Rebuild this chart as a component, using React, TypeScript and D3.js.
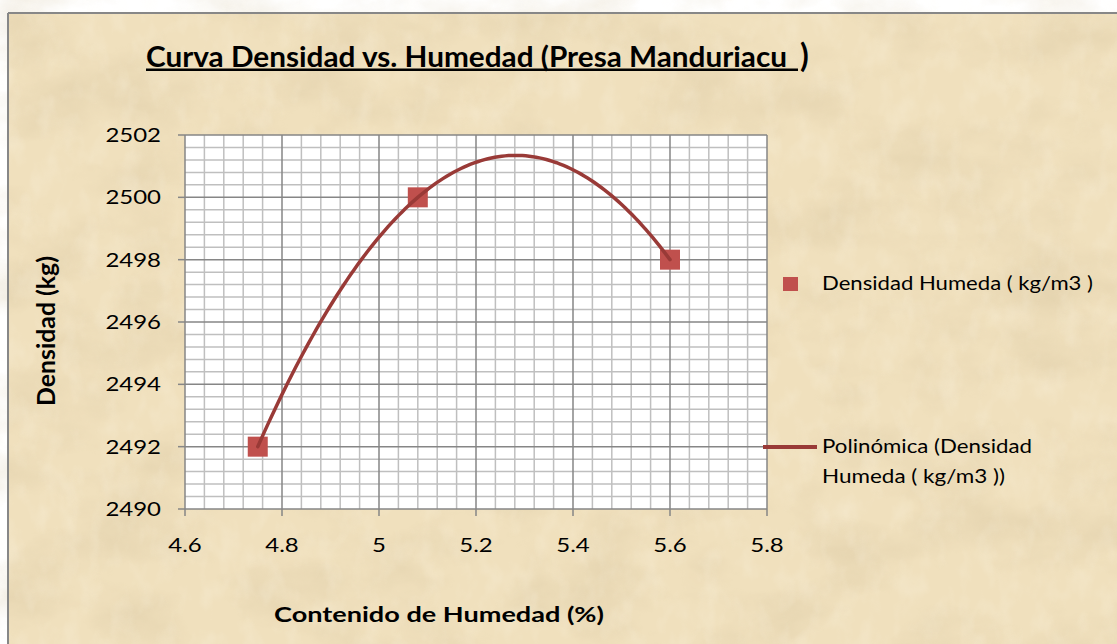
import React from "react";
import * as d3 from "d3";

// ---- data ----
const humedad: number[] = [4.75, 5.08, 5.6];
const densidad: number[] = [2492, 2500, 2498];
const xTicks: number[] = [4.6, 4.8, 5, 5.2, 5.4, 5.6, 5.8];
const yTicks: number[] = [2490, 2492, 2494, 2496, 2498, 2500, 2502];
const titleText = "Curva Densidad vs. Humedad (Presa Manduriacu ";
const xTitle = "Contenido de Humedad (%)";
const yTitle = "Densidad (kg)";
const legendSeries = "Densidad Humeda ( kg/m3 )";
const legendTrend = ["Polinómica (Densidad", "Humeda ( kg/m3 ))"];

// least-squares polynomial (order 2) trendline, as the spreadsheet computes it
function polyFit(xs: number[], ys: number[]) {
  const x0 = d3.mean(xs) as number;
  const S = [0, 0, 0, 0, 0];
  const T = [0, 0, 0];
  xs.forEach((x, i) => {
    const u = x - x0;
    for (let k = 0; k < 5; k++) S[k] += Math.pow(u, k);
    for (let k = 0; k < 3; k++) T[k] += ys[i] * Math.pow(u, k);
  });
  const A = [
    [S[0], S[1], S[2], T[0]],
    [S[1], S[2], S[3], T[1]],
    [S[2], S[3], S[4], T[2]],
  ];
  for (let c = 0; c < 3; c++) {
    for (let r = c + 1; r < 3; r++) {
      const f = A[r][c] / A[c][c];
      for (let k = c; k < 4; k++) A[r][k] -= f * A[c][k];
    }
  }
  const b = [0, 0, 0];
  for (let r = 2; r >= 0; r--) {
    let s = A[r][3];
    for (let k = r + 1; k < 3; k++) s -= A[r][k] * b[k];
    b[r] = s / A[r][r];
  }
  return (x: number) => b[0] + b[1] * (x - x0) + b[2] * (x - x0) * (x - x0);
}

const W = 1117;
const H = 644;
const L = 185, R = 767, T = 135, B = 509;
const SX = 1.23;
const FONT = "Lato, 'Open Sans', sans-serif";

export default function App() {
  const x = d3.scaleLinear().domain([4.6, 5.8]).range([L, R]);
  const y = d3.scaleLinear().domain([2490, 2502]).range([B, T]);

  const xMinor: number[] = [];
  for (let i = 0; i < xTicks.length - 1; i++) {
    for (let k = 1; k < 5; k++) xMinor.push(xTicks[i] + ((xTicks[i + 1] - xTicks[i]) * k) / 5);
  }
  const yMinor: number[] = [];
  for (let i = 0; i < yTicks.length - 1; i++) {
    for (let k = 1; k < 5; k++) yMinor.push(yTicks[i] + ((yTicks[i + 1] - yTicks[i]) * k) / 5);
  }

  const f = polyFit(humedad, densidad);
  const xmin = d3.min(humedad) as number;
  const xmax = d3.max(humedad) as number;
  const samples = d3.range(0, 121).map((i) => xmin + ((xmax - xmin) * i) / 120);
  const line = d3
    .line<number>()
    .x((v) => x(v))
    .y((v) => y(f(v)))
    .curve(d3.curveLinear);

  const fmt = (v: number) => String(+v.toFixed(2));

  const minorColor = "#bfbfbf";
  const majorColor = "#868686";
  const markerColor = "#c0504d";
  const trendColor = "#993a37";

  return (
    <svg
      width={W}
      height={H}
      style={{ position: "absolute", left: 0, top: 0, background: "#ffffff" }}
      fontFamily={FONT}
    >
      <defs>
        <filter id="paper" x="0" y="0" width="100%" height="100%" filterUnits="userSpaceOnUse">
          <feTurbulence type="fractalNoise" baseFrequency="0.011 0.016" numOctaves={5} seed={11} result="n" />
          <feColorMatrix
            in="n"
            type="matrix"
            values="0 0 0 0 0.62  0 0 0 0 0.5  0 0 0 0 0.3  2.0 0 0 0 -0.85"
          />
        </filter>
        <filter id="paper2" x="0" y="0" width="100%" height="100%" filterUnits="userSpaceOnUse">
          <feTurbulence type="fractalNoise" baseFrequency="0.05 0.03" numOctaves={3} seed={4} result="n" />
          <feColorMatrix
            in="n"
            type="matrix"
            values="0 0 0 0 1  0 0 0 0 0.97  0 0 0 0 0.88  0 2.0 0 0 -0.9"
          />
        </filter>
      </defs>

      {/* chart area background */}
      <rect x={8} y={13} width={W - 8} height={H - 13} fill="#f0e0bd" />
      <rect x={8} y={13} width={W - 8} height={H - 13} filter="url(#paper)" opacity={0.3} />
      <rect x={8} y={13} width={W - 8} height={H - 13} filter="url(#paper2)" opacity={0.22} />
      <line x1={8} x2={W} y1={13} y2={13} stroke="#878787" strokeWidth={2} />
      <line x1={8} x2={8} y1={13} y2={H} stroke="#878787" strokeWidth={2} />

      {/* title */}
      <text x={146} y={67} fontSize={28} fontWeight="bold" textLength={641} lengthAdjust="spacingAndGlyphs" fill="#000">
        {titleText}
      </text>
      <line x1={146} x2={798} y1={69.8} y2={69.8} stroke="#000" strokeWidth={2.4} />
      <text x={800} y={67} fontSize={32} fontWeight="bold" fill="#000">)</text>

      {/* plot area */}
      <rect x={L} y={T} width={R - L} height={B - T} fill="#ffffff" />
      {xMinor.map((v, i) => (
        <line key={"xm" + i} x1={x(v)} x2={x(v)} y1={T} y2={B} stroke={minorColor} strokeWidth={1.5} />
      ))}
      {yMinor.map((v, i) => (
        <line key={"ym" + i} x1={L} x2={R} y1={y(v)} y2={y(v)} stroke={minorColor} strokeWidth={1.5} />
      ))}
      {xTicks.map((v, i) => (
        <line key={"xM" + i} x1={x(v)} x2={x(v)} y1={T} y2={B} stroke={majorColor} strokeWidth={1.5} />
      ))}
      {yTicks.map((v, i) => (
        <line key={"yM" + i} x1={L} x2={R} y1={y(v)} y2={y(v)} stroke={majorColor} strokeWidth={1.5} />
      ))}

      {/* axis ticks */}
      {yTicks.map((v, i) => (
        <line key={"yt" + i} x1={L - 7} x2={L} y1={y(v)} y2={y(v)} stroke={majorColor} strokeWidth={1.5} />
      ))}
      {xTicks.map((v, i) => (
        <line key={"xt" + i} x1={x(v)} x2={x(v)} y1={B} y2={B + 7} stroke={majorColor} strokeWidth={1.5} />
      ))}

      {/* tick labels */}
      {yTicks.map((v, i) => (
        <text
          key={"yl" + i}
          transform={`translate(161,${y(v) + 7}) scale(${SX},1)`}
          textAnchor="end"
          fontSize={19.5}
          fill="#000"
        >
          {fmt(v)}
        </text>
      ))}
      {xTicks.map((v, i) => (
        <text
          key={"xl" + i}
          transform={`translate(${x(v)},552) scale(${SX},1)`}
          textAnchor="middle"
          fontSize={19.5}
          fill="#000"
        >
          {fmt(v)}
        </text>
      ))}

      {/* axis titles */}
      <text
        x={274}
        y={622}
        fontSize={21}
        fontWeight="bold"
        textLength={330}
        lengthAdjust="spacingAndGlyphs"
        fill="#000"
      >
        {xTitle}
      </text>
      <text
        transform={`translate(55,331) scale(${SX},1) rotate(-90)`}
        textAnchor="middle"
        fontSize={19.5}
        fontWeight="bold"
        textLength={150}
        lengthAdjust="spacingAndGlyphs"
        fill="#000"
      >
        {yTitle}
      </text>

      {/* series */}
      {humedad.map((h, i) => (
        <rect
          key={"pt" + i}
          x={x(h) - 10}
          y={y(densidad[i]) - 10}
          width={20}
          height={20}
          fill={markerColor}
        />
      ))}
      <path d={line(samples) || ""} fill="none" stroke={trendColor} strokeWidth={3.5} strokeLinecap="round" />

      {/* legend */}
      <rect x={783} y={277} width={15} height={14} fill={markerColor} />
      <text x={822} y={290} fontSize={19.5} textLength={271} lengthAdjust="spacingAndGlyphs" fill="#000">
        {legendSeries}
      </text>
      <line x1={763} x2={817} y1={447} y2={447} stroke={trendColor} strokeWidth={4} />
      <text x={822} y={453} fontSize={19.5} textLength={210} lengthAdjust="spacingAndGlyphs" fill="#000">
        {legendTrend[0]}
      </text>
      <text x={822} y={483} fontSize={19.5} textLength={183} lengthAdjust="spacingAndGlyphs" fill="#000">
        {legendTrend[1]}
      </text>
    </svg>
  );
}
